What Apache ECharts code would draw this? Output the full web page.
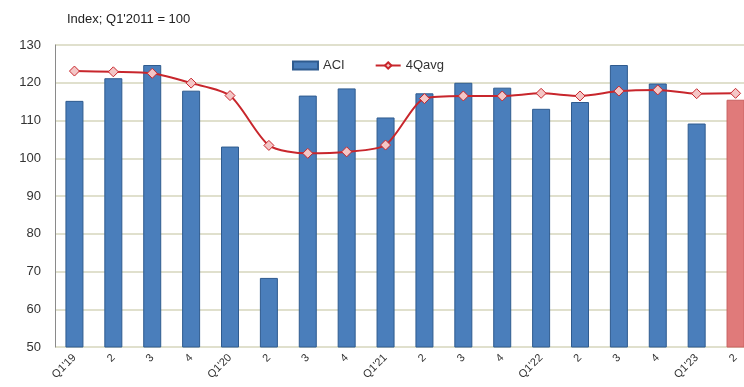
<!DOCTYPE html>
<html><head><meta charset="utf-8">
<script src="https://cdn.jsdelivr.net/npm/echarts@6/dist/echarts.min.js"></script>
<style>html,body{margin:0;padding:0;background:#fff}#c{width:744px;height:387px}</style>
</head><body><div id="c"></div>
<script>
var categories = ["Q1'19","2","3","4","Q1'20","2","3","4","Q1'21","2","3","4","Q1'22","2","3","4","Q1'23","2"];
var aciValues = [115.2,121.2,124.7,117.9,103.1,68.3,116.6,118.5,110.8,117.2,120.0,118.7,113.1,114.9,124.7,119.8,109.2,115.5];
var avgValues = [123.1,122.9,122.5,119.9,116.6,103.4,101.3,101.7,103.5,115.8,116.5,116.5,117.2,116.5,117.8,118.1,117.1,117.2];
var yTicks = {min:50, max:130, interval:10};

var barData = aciValues.map(function(v,i){
  if (i === aciValues.length-1) return {value:v, itemStyle:{color:'#e07a7a', borderColor:'#c9605f'}};
  return v;
});
var chart = echarts.init(document.getElementById('c'));
chart.setOption({
  animation:false,
  title:{text:"Index; Q1'2011 = 100", left:62, top:8, textStyle:{fontSize:13, fontWeight:'normal', color:'#222', fontFamily:'Liberation Sans, Arial'}},
  legend:{left:287, top:54, itemGap:30, itemWidth:25, itemHeight:8,
    textStyle:{fontSize:13, color:'#333', fontFamily:'Liberation Sans, Arial'},
    data:[{name:'ACI', icon:'rect'},{name:'4Qavg'}]},
  grid:{left:55, top:45, width:700, height:302, outerBoundsMode:'none', containLabel:false},
  xAxis:{type:'category', data:categories, boundaryGap:true,
    axisLine:{show:false}, axisTick:{show:false},
    axisLabel:{rotate:45, fontSize:11, color:'#333', margin:9, interval:0, fontFamily:'Liberation Sans, Arial'}},
  yAxis:{type:'value', min:yTicks.min, max:yTicks.max, interval:yTicks.interval,
    axisLine:{show:true, lineStyle:{color:'#8a8a8a'}}, axisTick:{show:false},
    axisLabel:{fontSize:13, color:'#333', margin:14, fontFamily:'Liberation Sans, Arial'},
    splitLine:{lineStyle:{color:'#d6d6bd', width:1.5}}},
  series:[
    {name:'ACI', type:'bar', data:barData, barWidth:18,
      itemStyle:{color:'#4a7ebb', borderColor:'#2f5b8f', borderWidth:1}},
    {name:'4Qavg', type:'line', data:avgValues, smooth:0.25,
      symbol:'diamond', symbolSize:10, showAllSymbol:true,
      lineStyle:{color:'#c8262c', width:2},
      itemStyle:{color:'#f4c6c6', borderColor:'#c8262c', borderWidth:1}}
  ]
});
</script></body></html>
